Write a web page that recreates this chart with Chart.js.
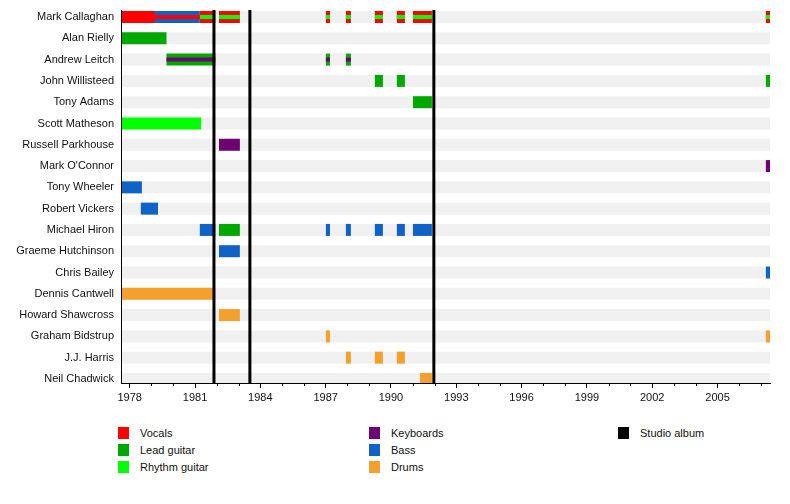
<!DOCTYPE html>
<html>
<head>
	<meta charset="utf-8">
	<title>Band timeline</title>
	<style>
		body { margin: 0; background: #fff; font-family: "Liberation Sans", Arial, sans-serif; }
		#wrap { position: relative; width: 790px; height: 504px; }
		#legend .item { position: absolute; font-size: 11px; color: #111; height: 12px; line-height: 12px; white-space: nowrap; }
		#legend .box { position: absolute; left: 0; top: 0; width: 11px; height: 12px; }
		#legend .txt { position: absolute; left: 22px; top: 0; }
	</style>
	<script src="https://cdn.jsdelivr.net/npm/chart.js@4.4.1/dist/chart.umd.min.js"></script>
</head>
<body>
	<div id="wrap">
		<canvas id="timeline" width="790" height="410"></canvas>
		<div id="legend"></div>
	</div>

	<script type="text/javascript">
		const members = [
			'Mark Callaghan', 'Alan Rielly', 'Andrew Leitch', 'John Willisteed', 'Tony Adams',
			'Scott Matheson', 'Russell Parkhouse', "Mark O'Connor", 'Tony Wheeler', 'Robert Vickers',
			'Michael Hiron', 'Graeme Hutchinson', 'Chris Bailey', 'Dennis Cantwell', 'Howard Shawcross',
			'Graham Bidstrup', 'J.J. Harris', 'Neil Chadwick'
		];

		const xStart = 1977.6;
		const xEnd = 2007.41;
		const albumYears = [1981.87, 1983.52, 1991.97];

		// [member, from, to]
		const vocals = [
			['Mark Callaghan', 1977.6, 1979.16], ['Mark Callaghan', 1981.22, 1981.93], ['Mark Callaghan', 1982.10, 1983.06],
			['Mark Callaghan', 1987.01, 1987.20], ['Mark Callaghan', 1987.93, 1988.16], ['Mark Callaghan', 1989.26, 1989.63],
			['Mark Callaghan', 1990.27, 1990.64], ['Mark Callaghan', 1991.01, 1991.88], ['Mark Callaghan', 2007.22, 2007.41]
		];
		const leadGuitar = [
			['Alan Rielly', 1977.6, 1979.69],
			['Andrew Leitch', 1979.69, 1981.93], ['Andrew Leitch', 1987.01, 1987.20], ['Andrew Leitch', 1987.93, 1988.16],
			['John Willisteed', 1989.26, 1989.63], ['John Willisteed', 1990.27, 1990.64], ['John Willisteed', 2007.22, 2007.41],
			['Tony Adams', 1991.01, 1991.88],
			['Michael Hiron', 1982.10, 1983.06]
		];
		const rhythmGuitar = [
			['Scott Matheson', 1977.6, 1981.28]
		];
		const keyboards = [
			['Russell Parkhouse', 1982.10, 1983.06],
			["Mark O'Connor", 2007.22, 2007.41]
		];
		const bass = [
			['Mark Callaghan', 1979.16, 1981.22],
			['Tony Wheeler', 1977.6, 1978.56],
			['Robert Vickers', 1978.51, 1979.30],
			['Michael Hiron', 1981.22, 1981.93], ['Michael Hiron', 1987.01, 1987.20], ['Michael Hiron', 1987.93, 1988.16],
			['Michael Hiron', 1989.26, 1989.63], ['Michael Hiron', 1990.27, 1990.64], ['Michael Hiron', 1991.01, 1991.88],
			['Graeme Hutchinson', 1982.10, 1983.06],
			['Chris Bailey', 2007.22, 2007.41]
		];
		const drums = [
			['Dennis Cantwell', 1977.6, 1981.93],
			['Howard Shawcross', 1982.10, 1983.06],
			['Graham Bidstrup', 1987.01, 1987.20], ['Graham Bidstrup', 2007.22, 2007.41],
			['J.J. Harris', 1987.93, 1988.16], ['J.J. Harris', 1989.26, 1989.63], ['J.J. Harris', 1990.27, 1990.64],
			['Neil Chadwick', 1991.33, 1991.88]
		];

		// thin stripes drawn over the main bars (second role)
		const vocalsStripe = [
			['Mark Callaghan', 1979.16, 1981.22]
		];
		const rhythmStripe = [
			['Mark Callaghan', 1981.22, 1981.93], ['Mark Callaghan', 1982.10, 1983.06], ['Mark Callaghan', 1987.01, 1987.20],
			['Mark Callaghan', 1987.93, 1988.16], ['Mark Callaghan', 1989.26, 1989.63], ['Mark Callaghan', 1990.27, 1990.64],
			['Mark Callaghan', 1991.01, 1991.88], ['Mark Callaghan', 2007.22, 2007.41]
		];
		const keyboardsStripe = [
			['Andrew Leitch', 1979.69, 1981.93], ['Andrew Leitch', 1987.01, 1987.20], ['Andrew Leitch', 1987.93, 1988.16]
		];

		const colors = {
			'Vocals': '#ff0000',
			'Lead guitar': '#00a800',
			'Rhythm guitar': '#00ff00',
			'Keyboards': '#6e0074',
			'Bass': '#0f63c6',
			'Drums': '#f5a02c',
			'Studio album': '#000000'
		};
		const legendOrder = ['Vocals', 'Lead guitar', 'Rhythm guitar', 'Keyboards', 'Bass', 'Drums', 'Studio album'];

		function spans(list) {
			return list.map(s => ({ y: members.indexOf(s[0]), x: [s[1], s[2]] }));
		}
		function barSet(label, list, color, thickness, order) {
			// bars are not grouped, so maxBarThickness sets the height
			return { label: label, data: spans(list), backgroundColor: color, maxBarThickness: thickness, order: order };
		}

		const rows = members.map(m => [m, xStart, xEnd]);

		const datasets = [
			barSet('rows', rows, '#f0f0f0', 12, 3),
			barSet('Vocals', vocals, colors['Vocals'], 12, 2),
			barSet('Lead guitar', leadGuitar, colors['Lead guitar'], 12, 2),
			barSet('Rhythm guitar', rhythmGuitar, colors['Rhythm guitar'], 12, 2),
			barSet('Keyboards', keyboards, colors['Keyboards'], 12, 2),
			barSet('Bass', bass, colors['Bass'], 12, 2),
			barSet('Drums', drums, colors['Drums'], 12, 2),
			barSet('Vocals stripe', vocalsStripe, colors['Vocals'], 4, 1),
			barSet('Rhythm stripe', rhythmStripe, colors['Rhythm guitar'], 4, 1),
			barSet('Keyboards stripe', keyboardsStripe, colors['Keyboards'], 4, 1)
		];

		const isMajor = v => Math.round(v - 1978) % 3 === 0;

		// album lines and the short yearly ticks
		const extras = {
			id: 'extras',
			afterDatasetsDraw(chart) {
				const { ctx, chartArea, scales } = chart;
				ctx.save();
				ctx.strokeStyle = colors['Studio album'];
				ctx.lineWidth = 3;
				albumYears.forEach(v => {
					const px = scales.x.getPixelForValue(v);
					ctx.beginPath();
					ctx.moveTo(px, chartArea.top);
					ctx.lineTo(px, chartArea.bottom);
					ctx.stroke();
				});
				ctx.restore();
			},
			afterDraw(chart) {
				const { ctx, chartArea, scales } = chart;
				ctx.save();
				ctx.strokeStyle = '#000';
				ctx.lineWidth = 1;
				scales.x.ticks.forEach(t => {
					if (isMajor(t.value)) return;
					const px = Math.round(scales.x.getPixelForValue(t.value)) + 0.5;
					ctx.beginPath();
					ctx.moveTo(px, chartArea.bottom);
					ctx.lineTo(px, chartArea.bottom + 3);
					ctx.stroke();
				});
				ctx.restore();
			}
		};

		const font = { family: '"Liberation Sans", Arial, sans-serif', size: 11 };

		new Chart(document.getElementById('timeline'), {
			type: 'bar',
			data: { datasets: datasets },
			plugins: [extras],
			options: {
				indexAxis: 'y',
				responsive: false,
				animation: false,
				grouped: false,
				layout: { padding: { top: 10, right: 20, bottom: 0, left: 0 } },
				plugins: { legend: { display: false }, tooltip: { enabled: false } },
				scales: {
					x: {
						type: 'linear',
						offset: false,
						stacked: false,
						min: xStart,
						max: xEnd,
						grid: {
							drawOnChartArea: false,
							tickLength: 5,
							tickColor: c => (c.tick && isMajor(c.tick.value)) ? '#000' : 'rgba(0,0,0,0)'
						},
						border: { color: '#000', width: 1, z: 1 },
						ticks: {
							stepSize: 1,
							maxTicksLimit: 100,
							includeBounds: false,
							autoSkip: false,
							maxRotation: 0,
							padding: 3,
							color: '#111',
							font: font,
							callback: v => isMajor(v) ? String(Math.round(v)) : ''
						},
						afterFit: s => { s.height = 27; s.paddingLeft = 0; s.paddingRight = 0; }
					},
					y: {
						type: 'linear',
						offset: false,
						reverse: true,
						min: -0.33,
						max: 17.19,
						grid: { display: false, drawTicks: false },
						border: { color: '#000', width: 1, z: 1 },
						ticks: {
							stepSize: 1,
							maxTicksLimit: 100,
							includeBounds: false,
							autoSkip: false,
							padding: 7,
							color: '#111',
							font: font,
							callback: v => Number.isInteger(v) ? (members[v] || '') : ''
						},
						afterFit: s => { s.width = 121; s.paddingTop = 0; s.paddingBottom = 0; }
					}
				}
			}
		});

		// legend in three columns
		const legendEl = document.getElementById('legend');
		const colX = [118, 369, 618];
		const rowY = [427, 444, 461];
		legendOrder.forEach((name, i) => {
			const item = document.createElement('div');
			item.className = 'item';
			item.style.left = colX[Math.floor(i / 3)] + 'px';
			item.style.top = rowY[i % 3] + 'px';
			item.innerHTML = '<span class="box" style="background:' + colors[name] + '"></span><span class="txt">' + name + '</span>';
			legendEl.appendChild(item);
		});
	</script>
</body>
</html>
